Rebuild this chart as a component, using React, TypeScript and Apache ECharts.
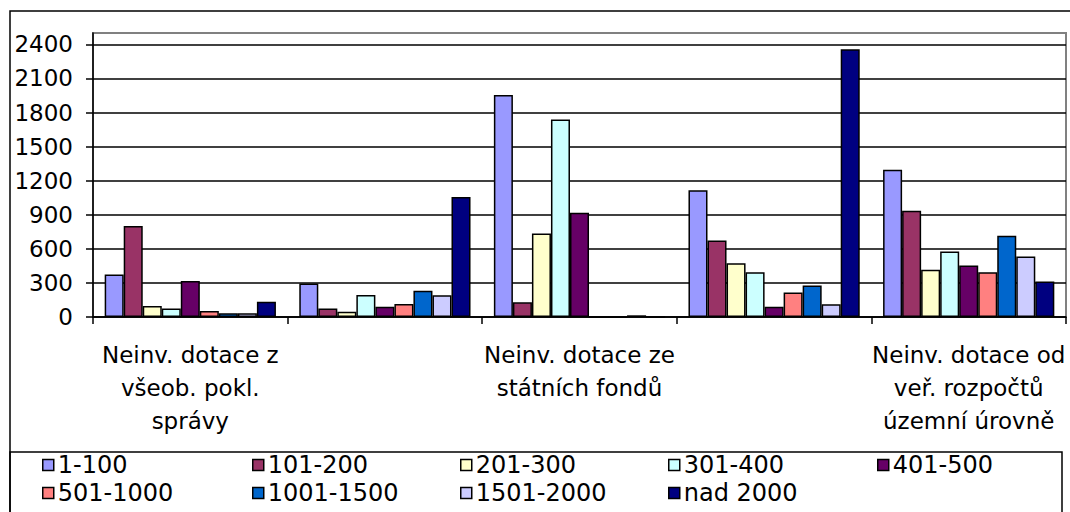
import React, { useEffect, useRef } from "react";
import * as echarts from "echarts";

const categories = [
  "Neinv. dotace z\nvšeob. pokl.\nsprávy",
  "Neinv. dotace ze\nstátního rozpočtu",
  "Neinv. dotace ze\nstátních fondů",
  "Neinv. dotace od\nobcí",
  "Neinv. dotace od\nveř. rozpočtů\núzemní úrovně",
];

const seriesNames = [
  "1-100",
  "101-200",
  "201-300",
  "301-400",
  "401-500",
  "501-1000",
  "1001-1500",
  "1501-2000",
  "nad 2000",
];

const s1_100 = [375, 295, 1955, 1115, 1297];
const s101_200 = [800, 74, 129, 673, 935];
const s201_300 = [97, 47, 735, 473, 415];
const s301_400 = [74, 194, 1738, 394, 576];
const s401_500 = [318, 91, 918, 91, 453];
const s501_1000 = [53, 115, 0, 215, 394];
const s1001_1500 = [32, 232, 0, 277, 715];
const s1501_2000 = [32, 191, 15, 112, 532];
const sNad2000 = [135, 1056, 0, 2356, 312];

const seriesValues = [
  s1_100,
  s101_200,
  s201_300,
  s301_400,
  s401_500,
  s501_1000,
  s1001_1500,
  s1501_2000,
  sNad2000,
];

const colors = [
  "#9999FF",
  "#993366",
  "#FFFFCC",
  "#CCFFFF",
  "#660066",
  "#FF8080",
  "#0066CC",
  "#CCCCFF",
  "#000080",
];

const yMax = 2500;
const yInterval = 300;

const legendPos = [
  [42, 453],
  [252, 453],
  [460, 453],
  [668, 453],
  [877, 453],
  [42, 481],
  [252, 481],
  [460, 481],
  [668, 481],
];

const FONT = "DejaVu Sans, sans-serif";

export default function App() {
  const ref = useRef<HTMLDivElement>(null);
  useEffect(() => {
    document.body.style.margin = "0";
    if (!ref.current) return;
    const chart = echarts.init(ref.current, null, { renderer: "svg" });
    const splitColors: string[] = [];
    for (let i = 0; i < 9; i++) splitColors.push("#000");
    splitColors.push("#808080");
    chart.setOption({
      animation: false,
      backgroundColor: "#fff",
      textStyle: { fontFamily: FONT },
      grid: {
        left: 93,
        top: 33,
        right: 4,
        bottom: 195,
        show: true,
        borderColor: "#808080",
        borderWidth: 2,
        containLabel: false,
      },
      xAxis: {
        type: "category",
        data: categories,
        axisLine: { show: true, lineStyle: { color: "#000", width: 1.5 } },
        axisTick: {
          show: true,
          interval: 0,
          alignWithLabel: false,
          length: 7,
          lineStyle: { color: "#000", width: 1.5 },
        },
        axisLabel: {
          interval: 1,
          fontSize: 23,
          lineHeight: 33,
          margin: 21,
          color: "#000",
          fontFamily: FONT,
          align: "center",
        },
      },
      yAxis: {
        type: "value",
        min: 0,
        max: yMax,
        interval: yInterval,
        axisLine: { show: true, lineStyle: { color: "#000", width: 1.5 } },
        axisTick: { show: true, length: 7, lineStyle: { color: "#000", width: 1.5 } },
        axisLabel: {
          showMaxLabel: false,
          fontSize: 23,
          margin: 20,
          color: "#000",
          fontFamily: FONT,
          formatter: (v: number) => String(v),
        },
        splitLine: { show: true, lineStyle: { color: splitColors, width: 1.5 } },
      },
      legend: seriesNames.map((n, i) => ({
        data: [n],
        left: legendPos[i][0],
        top: legendPos[i][1],
        padding: 0,
        itemWidth: 11,
        itemHeight: 11,
        itemGap: 8,
        icon: "rect",
        itemStyle: { borderColor: "#000", borderWidth: 1.5 },
        textStyle: { fontSize: 24, color: "#000", fontFamily: FONT, padding: [0, 0, 0, -1] },
      })),
      graphic: [
        {
          type: "rect",
          shape: { x: 10, y: 11, width: 1080, height: 520 },
          style: { fill: "none", stroke: "#000", lineWidth: 1.5 },
          silent: true,
        },
        {
          type: "rect",
          shape: { x: 10, y: 452, width: 1052, height: 80 },
          style: { fill: "none", stroke: "#000", lineWidth: 1.5 },
          silent: true,
        },
      ],
      series: seriesNames.map((n, i) => ({
        name: n,
        type: "bar",
        data: seriesValues[i],
        barGap: "0%",
        barCategoryGap: "12%",
        itemStyle: { color: colors[i], borderColor: "#000", borderWidth: 1.5 },
      })),
    });
    return () => chart.dispose();
  }, []);
  return <div ref={ref} style={{ width: 1070, height: 512 }} />;
}
